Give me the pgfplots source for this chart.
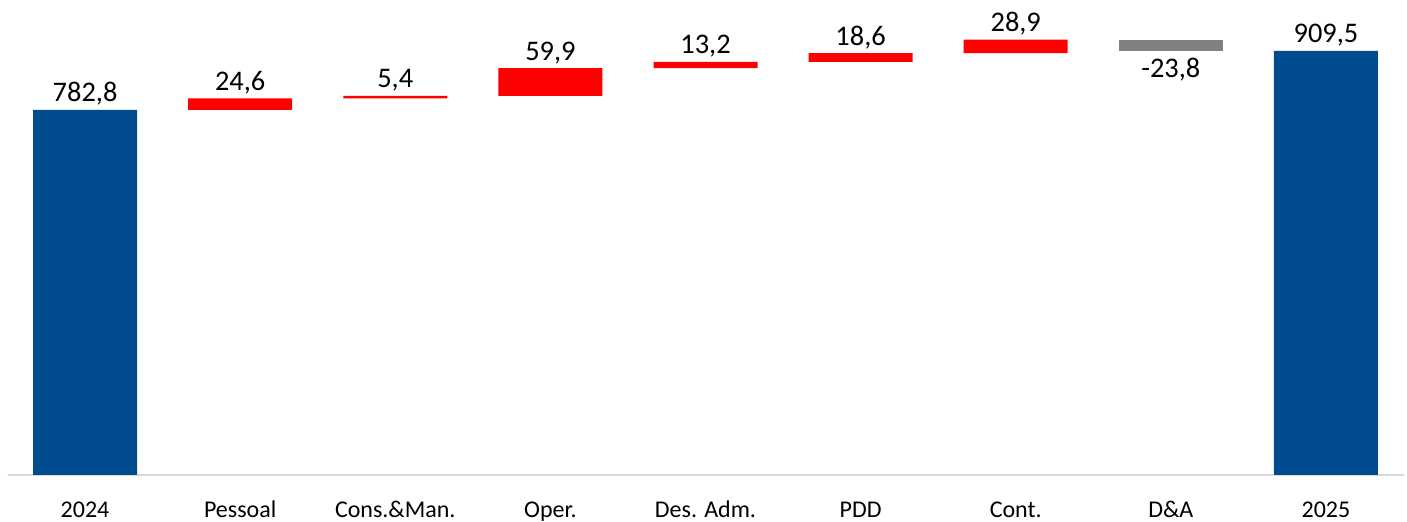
\documentclass[border=0pt]{standalone}
\usepackage{fontspec}
\setmainfont{Carlito}
\usepackage{pgfplots}
\pgfplotsset{compat=1.18}
\usepackage{pgfplotstable}
\definecolor{wfblue}{RGB}{0,76,143}
\definecolor{wfred}{RGB}{255,0,0}
\definecolor{wfgray}{RGB}{128,128,128}
\definecolor{axgray}{RGB}{217,217,217}

\pgfplotstableread{
x base blue red gray
0 0 782.8 0 0
1 782.8 0 24.6 0
2 807.4 0 5.4 0
3 812.8 0 59.9 0
4 872.7 0 13.2 0
5 885.9 0 18.6 0
6 904.5 0 28.9 0
7 909.6 0 0 23.8
8 0 909.5 0 0
}\wf

\pgfplotstableread{
x y lab
0 782.8 782,8
1 807.4 24,6
2 812.8 5,4
3 872.7 59,9
4 885.9 13,2
5 904.5 18,6
6 933.4 28,9
8 909.5 909,5
}\toplabels

\pgfplotstableread{
x y lab
7 909.6 -23,8
}\botlabels

\pgfplotsset{wfaxis/.style={scale only axis, width=698pt, height=233.15pt,
  xmin=-0.5, xmax=8.5, ymin=0, ymax=1000, clip=false}}

\begin{document}
\begin{tikzpicture}
\begin{axis}[wfaxis, name=ax,
  ybar stacked, bar width=52pt,
  axis y line=none, axis x line=bottom,
  x axis line style={-, axgray, line width=1pt},
  xtick={0,...,8},
  xticklabels={2024,Pessoal,Cons.\&Man.,Oper.,Des. Adm.,PDD,Cont.,D\&A,2025},
  major tick length=0pt,
  xticklabel style={anchor=base, yshift=-21.5pt, font=\fontsize{12}{14}\selectfont},
]
\addplot[draw=none, fill=none] table[x=x, y=base] {\wf};
\addplot[draw=none, fill=wfblue] table[x=x, y=blue] {\wf};
\addplot[draw=none, fill=wfred] table[x=x, y=red] {\wf};
\addplot[draw=none, fill=wfgray] table[x=x, y=gray] {\wf};
\end{axis}
\begin{axis}[wfaxis, axis lines=none]
\addplot[draw=none, mark=none, nodes near coords, point meta=explicit symbolic,
  nodes near coords style={anchor=base, yshift=4pt, font=\fontsize{14.2}{17}\selectfont, inner sep=0pt}]
  table[x=x, y=y, meta=lab] {\toplabels};
\addplot[draw=none, mark=none, nodes near coords, point meta=explicit symbolic,
  nodes near coords style={anchor=base, yshift=-13.25pt, font=\fontsize{14.2}{17}\selectfont, inner sep=0pt}]
  table[x=x, y=y, meta=lab] {\botlabels};
\end{axis}
\pgfresetboundingbox
\path ([shift={(-3.75pt,-23.5pt)}]ax.south west) rectangle ([shift={(1.75pt,4.35pt)}]ax.north east);
\end{tikzpicture}
\end{document}
